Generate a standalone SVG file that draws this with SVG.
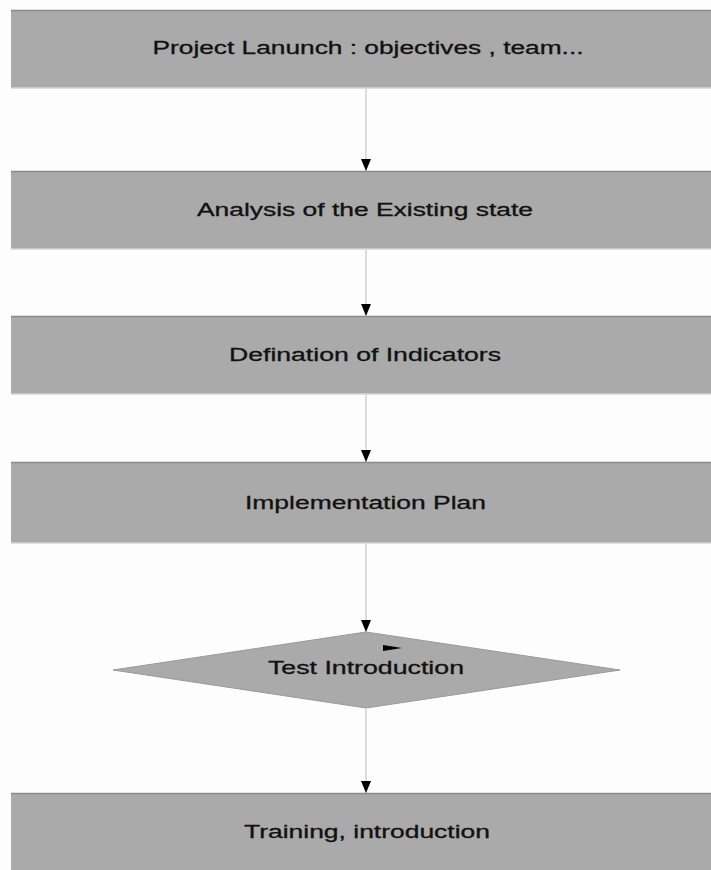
<svg xmlns="http://www.w3.org/2000/svg" width="711" height="870" viewBox="0 0 711 870">
<defs>
<style>
.box{fill:#aaaaaa;}
.top{stroke:#8a8a8a;stroke-width:1.5;}
.bot{stroke:#d4d4d4;stroke-width:1.5;}
.lbl{font-family:"Liberation Sans",Arial,sans-serif;font-size:18px;fill:#111111;stroke:#111111;stroke-width:0.3;text-anchor:middle;}
.conn{stroke:#c8c8c8;stroke-width:1.2;fill:none;marker-end:url(#ah);}
</style>
<marker id="ah" markerWidth="12" markerHeight="10" refX="12" refY="5" orient="auto" markerUnits="userSpaceOnUse" viewBox="0 0 12 10">
<path d="M0,0 L12,5 L0,10 Z" fill="#000"/>
</marker>
</defs>
<rect width="711" height="870" fill="#fdfdfd"/>
<g id="connectors">
<line class="conn" x1="366" y1="89" x2="366" y2="171"/>
<line class="conn" x1="366" y1="250" x2="366" y2="316"/>
<line class="conn" x1="366" y1="395" x2="366" y2="462"/>
<line class="conn" x1="366" y1="544" x2="366" y2="632"/>
<line class="conn" x1="366" y1="709" x2="366" y2="793"/>
</g>
<g id="n1">
<rect class="box" x="11" y="10" width="700" height="78"/>
<line class="top" x1="11" y1="10.5" x2="711" y2="10.5"/>
<line class="bot" x1="11" y1="88" x2="711" y2="88"/>
<text class="lbl" x="368" y="54" textLength="431" lengthAdjust="spacingAndGlyphs">Project Lanunch : objectives , team...</text>
</g>
<g id="n2">
<rect class="box" x="11" y="171" width="700" height="78"/>
<line class="top" x1="11" y1="171.5" x2="711" y2="171.5"/>
<line class="bot" x1="11" y1="249" x2="711" y2="249"/>
<text class="lbl" x="365" y="216" textLength="336" lengthAdjust="spacingAndGlyphs">Analysis of the Existing state</text>
</g>
<g id="n3">
<rect class="box" x="11" y="316" width="700" height="78"/>
<line class="top" x1="11" y1="316.5" x2="711" y2="316.5"/>
<line class="bot" x1="11" y1="394" x2="711" y2="394"/>
<text class="lbl" x="365" y="361" textLength="272" lengthAdjust="spacingAndGlyphs">Defination of Indicators</text>
</g>
<g id="n4">
<rect class="box" x="11" y="462" width="700" height="81"/>
<line class="top" x1="11" y1="462.5" x2="711" y2="462.5"/>
<line class="bot" x1="11" y1="543" x2="711" y2="543"/>
<text class="lbl" x="365.5" y="509" textLength="241" lengthAdjust="spacingAndGlyphs">Implementation Plan</text>
</g>
<g id="n5">
<polygon points="366,632 620,670 366,708 113,670" fill="#aaaaaa" stroke="#9a9a9a" stroke-width="1"/>
<path d="M383,645 L402,648 L383,651 Z" fill="#000"/>
<text class="lbl" x="366" y="674" textLength="196" lengthAdjust="spacingAndGlyphs">Test Introduction</text>
</g>
<g id="n6">
<rect class="box" x="11" y="793" width="700" height="77"/>
<line class="top" x1="11" y1="793.5" x2="711" y2="793.5"/>
<text class="lbl" x="367" y="838" textLength="246" lengthAdjust="spacingAndGlyphs">Training, introduction</text>
</g>
</svg>
